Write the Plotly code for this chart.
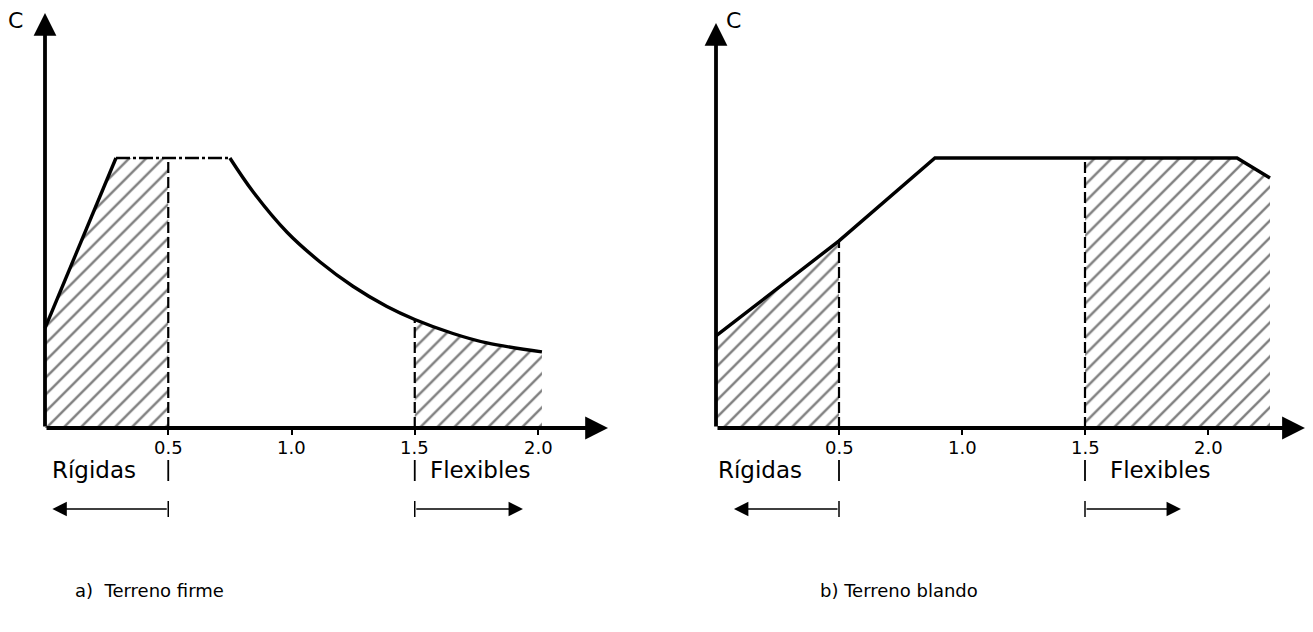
import plotly.graph_objects as go

# ---------------- data ----------------
tick_vals = [0.5, 1.0, 1.5, 2.0]
tick_text = ["0.5", "1.0", "1.5", "2.0"]

# a) Terreno firme : period T vs coefficient C (plateau = 1)
firme_T = [0.0, 0.288, 0.75, 0.844, 0.982, 1.116, 1.249, 1.387, 1.5, 1.655, 1.793, 2.016]
firme_C = [0.37, 1.0, 1.0, 0.875, 0.725, 0.615, 0.525, 0.45, 0.402, 0.35, 0.315, 0.282]

# b) Terreno blando
blando_T = [0.0, 0.5, 0.89, 2.118, 2.252]
blando_C = [0.341, 0.693, 1.0, 1.0, 0.926]

rigid_limit = 0.5
flex_limit = 1.5

captions = ["a)  Terreno firme", "b) Terreno blando"]
axis_label = "C"
zone_labels = ["Rígidas", "Flexibles"]

# ---------------- layout geometry ----------------
W, H = 1313, 632
Y0PX, YSCALE = 420, 270.0           # pixel row of C=0, px per unit C
panels = [
    dict(ox=37, sc=246.5, x0=0, x1=650, xtip=2.284, ytip=1.537,
         T=firme_T, C=firme_C, smooth_from=2, plateau=(1, 2),
         rig_txt_x=0.022, rig_arrow=0.03,
         flex_txt_x=1.552, flex_arrow=1.939, cap_x=0.114, c_x=-0.12),
    dict(ox=708, sc=246.0, x0=660, x1=W, xtip=2.394, ytip=1.50,
         T=blando_T, C=blando_C, smooth_from=None, plateau=None,
         rig_txt_x=0.0, rig_arrow=0.073,
         flex_txt_x=1.592, flex_arrow=1.89, cap_x=0.415, c_x=0.073),
]
ymin = -(H - Y0PX) / YSCALE
ymax = Y0PX / YSCALE
FONT = "DejaVu Sans"


def cy(px_below_axis):
    """convert a pixel offset below the C=0 line to C units"""
    return -px_below_axis / YSCALE


def interp(T, C, t):
    for i in range(len(T) - 1):
        if T[i] <= t <= T[i + 1]:
            f = (t - T[i]) / (T[i + 1] - T[i])
            return C[i] + f * (C[i + 1] - C[i])
    return C[-1]


fig = go.Figure()
annotations = []
shapes = []

for k, p in enumerate(panels):
    xs = "x" if k == 0 else "x2"
    ys = "y" if k == 0 else "y2"
    T, C = p["T"], p["C"]

    # hatched zones
    c_r = interp(T, C, rigid_limit)
    c_f = interp(T, C, flex_limit)
    rT = [t for t in T if t < rigid_limit] + [rigid_limit]
    rC = [c for t, c in zip(T, C) if t < rigid_limit] + [c_r]
    fT = [flex_limit] + [t for t in T if t > flex_limit]
    fC = [c_f] + [c for t, c in zip(T, C) if t > flex_limit]
    for zt, zc in ((rT, rC), (fT, fC)):
        fig.add_trace(go.Scatter(
            x=zt, y=zc, xaxis=xs, yaxis=ys, mode="lines",
            line=dict(width=0, color="rgba(0,0,0,0)",
                      shape="spline" if k == 0 and zt[0] == flex_limit else "linear"),
            fill="tozeroy", fillcolor="rgba(0,0,0,0)",
            fillpattern=dict(shape="/", fgcolor="black", bgcolor="rgba(0,0,0,0)",
                             size=12, solidity=0.2),
            hoverinfo="skip", showlegend=False))

    # dashed boundaries
    for t, c in ((rigid_limit, c_r), (flex_limit, c_f)):
        fig.add_trace(go.Scatter(
            x=[t, t], y=[0, c], xaxis=xs, yaxis=ys, mode="lines",
            line=dict(color="black", width=2.2, dash="11px,4px"),
            hoverinfo="skip", showlegend=False))

    # spectrum curve
    if p["smooth_from"] is None:
        fig.add_trace(go.Scatter(
            x=T, y=C, xaxis=xs, yaxis=ys, mode="lines",
            line=dict(color="black", width=3.4),
            hoverinfo="skip", showlegend=False))
    else:
        i0, i1 = p["plateau"]
        s = p["smooth_from"]
        fig.add_trace(go.Scatter(
            x=T[:i0 + 1], y=C[:i0 + 1], xaxis=xs, yaxis=ys, mode="lines",
            line=dict(color="black", width=3.4),
            hoverinfo="skip", showlegend=False))
        fig.add_trace(go.Scatter(
            x=T[i0:i1 + 1], y=C[i0:i1 + 1], xaxis=xs, yaxis=ys, mode="lines",
            line=dict(color="black", width=2.6, dash="14px,3px,3px,3px"),
            hoverinfo="skip", showlegend=False))
        fig.add_trace(go.Scatter(
            x=T[s:], y=C[s:], xaxis=xs, yaxis=ys, mode="lines",
            line=dict(color="black", width=3.4, shape="spline", smoothing=1.0),
            hoverinfo="skip", showlegend=False))

    # axes with arrows
    for (tx, ty) in ((p["xtip"], 0), (0, p["ytip"])):
        annotations.append(dict(
            x=tx, y=ty, ax=0, ay=0, xref=xs, yref=ys, axref=xs, ayref=ys,
            text="", showarrow=True, arrowhead=2, arrowsize=1.2,
            arrowwidth=3.8, arrowcolor="black", standoff=0))

    # tick labels
    for tv, tt in zip(tick_vals, tick_text):
        annotations.append(dict(
            x=tv, y=cy(19), xref=xs, yref=ys, text=tt, showarrow=False,
            font=dict(family=FONT, size=18, color="black"),
            xanchor="center", yanchor="middle"))

    # "C" label
    annotations.append(dict(
        x=p["c_x"], y=(Y0PX - 12) / YSCALE, xref=xs, yref=ys, text=axis_label,
        showarrow=False, font=dict(family=FONT, size=22, color="black"),
        xanchor="center", yanchor="middle"))

    ytxt = cy(42)
    yarr = cy(81)
    # Rigidas
    annotations.append(dict(
        x=p["rig_txt_x"], y=ytxt, xref=xs, yref=ys, text=zone_labels[0],
        showarrow=False, font=dict(family=FONT, size=23, color="black"),
        xanchor="left", yanchor="middle"))
    annotations.append(dict(
        x=p["rig_arrow"], y=yarr, ax=rigid_limit, ay=yarr, xref=xs, yref=ys,
        axref=xs, ayref=ys, text="", showarrow=True, arrowhead=2,
        arrowsize=1.8, arrowwidth=1.6, arrowcolor="black", standoff=0))
    # Flexibles
    annotations.append(dict(
        x=p["flex_txt_x"], y=ytxt, xref=xs, yref=ys, text=zone_labels[1],
        showarrow=False, font=dict(family=FONT, size=23, color="black"),
        xanchor="left", yanchor="middle"))
    annotations.append(dict(
        x=p["flex_arrow"], y=yarr, ax=flex_limit, ay=yarr, xref=xs, yref=ys,
        axref=xs, ayref=ys, text="", showarrow=True, arrowhead=2,
        arrowsize=1.8, arrowwidth=1.6, arrowcolor="black", standoff=0))
    for t in (rigid_limit, flex_limit):
        shapes.append(dict(type="line", xref=xs, yref=ys, x0=t, x1=t,
                           y0=cy(32), y1=cy(53),
                           line=dict(color="black", width=1.8)))
        shapes.append(dict(type="line", xref=xs, yref=ys, x0=t, x1=t,
                           y0=cy(73), y1=cy(89),
                           line=dict(color="black", width=1.5)))

    # caption
    annotations.append(dict(
        x=p["cap_x"], y=cy(162), xref=xs, yref=ys, text=captions[k],
        showarrow=False, font=dict(family=FONT, size=18, color="black"),
        xanchor="left", yanchor="middle"))

xaxis_common = dict(
    showgrid=False, zeroline=False, showline=False, ticks="outside",
    ticklen=6, tickwidth=1.6, tickcolor="black",
    tickvals=tick_vals, showticklabels=False,
    anchor="free", position=1 - Y0PX / H, fixedrange=True)
yaxis_common = dict(visible=False, range=[ymin, ymax], domain=[0, 1], fixedrange=True)

pa, pb = panels
fig.update_layout(
    width=W, height=H, margin=dict(l=0, r=0, t=0, b=0),
    paper_bgcolor="white", plot_bgcolor="white",
    xaxis=dict(**xaxis_common, domain=[pa["x0"] / W, pa["x1"] / W],
               range=[(pa["x0"] - pa["ox"]) / pa["sc"], (pa["x1"] - pa["ox"]) / pa["sc"]]),
    xaxis2=dict(**xaxis_common, domain=[pb["x0"] / W, pb["x1"] / W],
                range=[(pb["x0"] - pb["ox"]) / pb["sc"], (pb["x1"] - pb["ox"]) / pb["sc"]]),
    yaxis=dict(**yaxis_common, anchor="x"),
    yaxis2=dict(**yaxis_common, anchor="x2"),
    annotations=annotations, shapes=shapes, showlegend=False,
)

fig.write_html("out.html", config={"displayModeBar": False})
